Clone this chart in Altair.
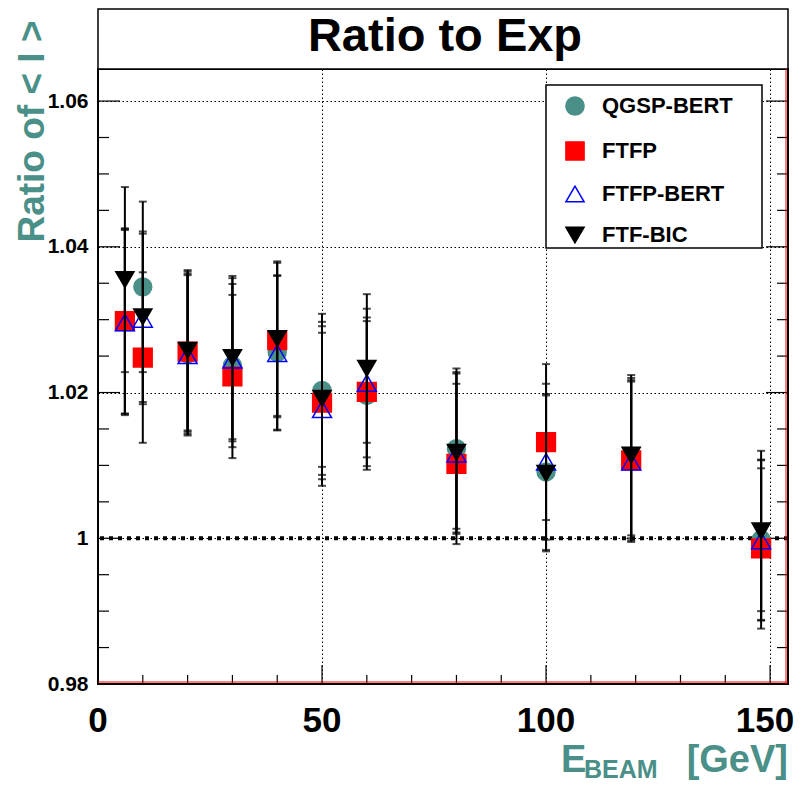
import altair as alt
import pandas as pd

# ---------------- data ----------------
energies = [6, 10, 20, 30, 40, 50, 60, 80, 100, 119, 148]
errors = [0.0127, 0.0117, 0.0110, 0.0112, 0.0106, 0.0105, 0.0102, 0.0110, 0.0107, 0.0110, 0.0110]
models = ["QGSP-BERT", "FTFP", "FTFP-BERT", "FTF-BIC"]
qgsp_bert = [1.0298, 1.0345, 1.0253, 1.0237, 1.0255, 1.0203, 1.0196, 1.0123, 1.0091, 1.0110, 0.9998]
ftfp = [1.0298, 1.0248, 1.0256, 1.0222, 1.0272, 1.0186, 1.0201, 1.0102, 1.0132, 1.0107, 0.9986]
ftfp_bert = [1.0296, 1.0301, 1.0251, 1.0245, 1.0254, 1.0177, 1.0213, 1.0116, 1.0105, 1.0105, 0.9997]
ftf_bic = [1.0355, 1.0304, 1.0258, 1.0248, 1.0274, 1.0192, 1.0233, 1.0118, 1.0089, 1.0114, 1.0010]
series_values = [qgsp_bert, ftfp, ftfp_bert, ftf_bic]

x_major = [0, 50, 100, 150]
x_labels = ["0", "50", "100", "150"]
x_minor = [10, 20, 30, 40, 60, 70, 80, 90, 110, 120, 130, 140]
y_major = [0.98, 1.00, 1.02, 1.04, 1.06]
y_minor = [0.985, 0.99, 0.995, 1.005, 1.01, 1.015, 1.025, 1.03, 1.035, 1.045, 1.05, 1.055]
unity = [1.0]

# ---------------- styles ----------------
TEAL = "#4a9088"
shapes = ["circle", "square", "triangle-up", "triangle-down"]
fills = [TEAL, "#ff0000", "transparent", "#000000"]
strokes = [TEAL, "#ff0000", "#0000ff", "#000000"]
sizes = [320, 350, 360, 330]
FONT = "Liberation Sans"

W, H = 690, 615

rows = []
for m, vals in zip(models, series_values):
    for e, v, er in zip(energies, vals, errors):
        rows.append({"model": m, "E": e, "v": v, "lo": v - er, "hi": v + er})
df = pd.DataFrame(rows)

xs = alt.Scale(domain=[0, 154], nice=False, zero=False)
ys = alt.Scale(domain=[0.98, 1.0644], nice=False, zero=False)

x_axis = alt.Axis(values=x_major, grid=True, gridDash=[1.5, 2.5], gridColor="black", gridWidth=1,
                  ticks=False, domain=False, labels=False)
y_axis = alt.Axis(values=y_major, grid=True, gridDash=[1.5, 2.5], gridColor="black", gridWidth=1,
                  ticks=False, domain=False, labelFontSize=21, labelFont=FONT, labelFontWeight="bold",
                  labelPadding=10, labelFlush=False, labelOverlap=False, labelColor="black",
                  labelExpr="datum.value == 1 ? '1' : format(datum.value, '.2f')",
                  titleFont=FONT, titleFontSize=37, titleFontWeight="bold",
                  titleColor=TEAL, titleAngle=270, titleAlign="right", titleBaseline="alphabetic",
                  titleX=-55, titleY=-49)
Y_TITLE = "Ratio of < I >"


def X(field):
    return alt.X(field, scale=xs, axis=x_axis, title="")


def Y(field):
    return alt.Y(field, scale=ys, axis=y_axis, title=Y_TITLE)


one = pd.DataFrame({"k": [0]})

axes_layer = alt.Chart(df).mark_point(opacity=0).encode(x=X("E:Q"), y=Y("v:Q"))

title_box = alt.Chart(one).mark_rect(fill="white", stroke="black", strokeWidth=1.5).encode(
    x=alt.value(0), x2=alt.value(W), y=alt.value(-60), y2=alt.value(0))
title_text = alt.Chart(one).mark_text(text="Ratio to Exp", font=FONT, fontSize=47, fontWeight="bold",
                                      align="center", baseline="alphabetic", color="black").encode(
    x=alt.value(347), y=alt.value(-18))

legend_box = alt.Chart(one).mark_rect(fill="white", stroke="black", strokeWidth=1.5).encode(
    x=alt.value(448), x2=alt.value(664), y=alt.value(16), y2=alt.value(179))

unity_line = alt.Chart(pd.DataFrame({"v": unity})).mark_rule(
    color="black", strokeWidth=4, strokeDash=[4, 5]).encode(y=Y("v:Q"))


def yticks(vals, length):
    d = pd.DataFrame({"v": vals})
    left = alt.Chart(d).mark_rule(color="black", strokeWidth=1.2).encode(
        y=Y("v:Q"), x=alt.value(0), x2=alt.value(length))
    right = alt.Chart(d).mark_rule(color="black", strokeWidth=1.2).encode(
        y=Y("v:Q"), x=alt.value(W), x2=alt.value(W - length))
    return [left, right]


def xticks(vals, length):
    d = pd.DataFrame({"E": vals})
    return [alt.Chart(d).mark_rule(color="black", strokeWidth=1.2).encode(
        x=X("E:Q"), y=alt.value(H), y2=alt.value(H - length))]


tick_layers = yticks(y_major, 22) + yticks(y_minor, 11) + xticks(x_major, 19) + xticks(x_minor, 9)

# x tick labels, placed through the x scale (the last one nudged so it stays inside the page)
xlab_df = pd.DataFrame({"E": x_major, "lab": x_labels})
xlab_style = dict(font=FONT, fontSize=35, fontWeight="bold", color="black",
                  align="center", baseline="alphabetic")
xlab_main = alt.Chart(xlab_df).transform_filter(alt.datum.E < 150).mark_text(**xlab_style).encode(
    x=X("E:Q"), y=alt.value(H + 48), text="lab:N")
xlab_last = alt.Chart(xlab_df).transform_filter(alt.datum.E >= 150).mark_text(dx=-5, **xlab_style).encode(
    x=X("E:Q"), y=alt.value(H + 48), text="lab:N")

series_layers = []
for m, sz in zip(models, sizes):
    base = alt.Chart(df).transform_filter(alt.datum.model == m)
    bar = base.mark_rule(color="black", strokeWidth=2).encode(x=X("E:Q"), y=Y("lo:Q"), y2="hi:Q")
    cap_lo = base.mark_tick(color="black", orient="horizontal", size=8, thickness=2).encode(
        x=X("E:Q"), y=Y("lo:Q"))
    cap_hi = base.mark_tick(color="black", orient="horizontal", size=8, thickness=2).encode(
        x=X("E:Q"), y=Y("hi:Q"))
    pts = base.mark_point(size=sz, strokeWidth=1.5, opacity=1).encode(
        x=X("E:Q"),
        y=Y("v:Q"),
        shape=alt.Shape("model:N", scale=alt.Scale(domain=models, range=shapes), title=None),
        fill=alt.Fill("model:N", scale=alt.Scale(domain=models, range=fills), title=None),
        stroke=alt.Stroke("model:N", scale=alt.Scale(domain=models, range=strokes), title=None),
    )
    series_layers += [bar, cap_lo, cap_hi, pts]

edge_bottom = alt.Chart(one).mark_rule(color="#ff0000", strokeWidth=1).encode(
    x=alt.value(0), x2=alt.value(W), y=alt.value(H - 2))
edge_right = alt.Chart(one).mark_rule(color="#ff0000", strokeWidth=1).encode(
    x=alt.value(W - 2), y=alt.value(0), y2=alt.value(H))

xt_style = dict(font=FONT, fontWeight="bold", color=TEAL, baseline="alphabetic")
xt_e = alt.Chart(one).mark_text(text="E", fontSize=38, align="left", **xt_style).encode(
    x=alt.value(463), y=alt.value(703))
xt_beam = alt.Chart(one).mark_text(text="BEAM", fontSize=25, align="left", **xt_style).encode(
    x=alt.value(486), y=alt.value(709))
xt_gev = alt.Chart(one).mark_text(text="[GeV]", fontSize=38, align="right", **xt_style).encode(
    x=alt.value(690), y=alt.value(703))

chart = alt.layer(
    axes_layer, title_box, title_text, legend_box, unity_line,
    *tick_layers, xlab_main, xlab_last, *series_layers, edge_bottom, edge_right, xt_e, xt_beam, xt_gev
).properties(
    width=W, height=H,
    padding={"left": 90, "top": 61, "right": 7, "bottom": 100},
    autosize=alt.AutoSizeParams(type="none"),
).configure_view(
    stroke="black", strokeWidth=2
).configure_legend(
    orient="none", legendX=466, legendY=26, padding=0,
    symbolSize=330, symbolStrokeWidth=1.5, rowPadding=19, labelOffset=16,
    labelFont=FONT, labelFontSize=22, labelFontWeight="bold", labelColor="black",
)

chart.save("out.html", embed_options={"renderer": "svg", "actions": False})
